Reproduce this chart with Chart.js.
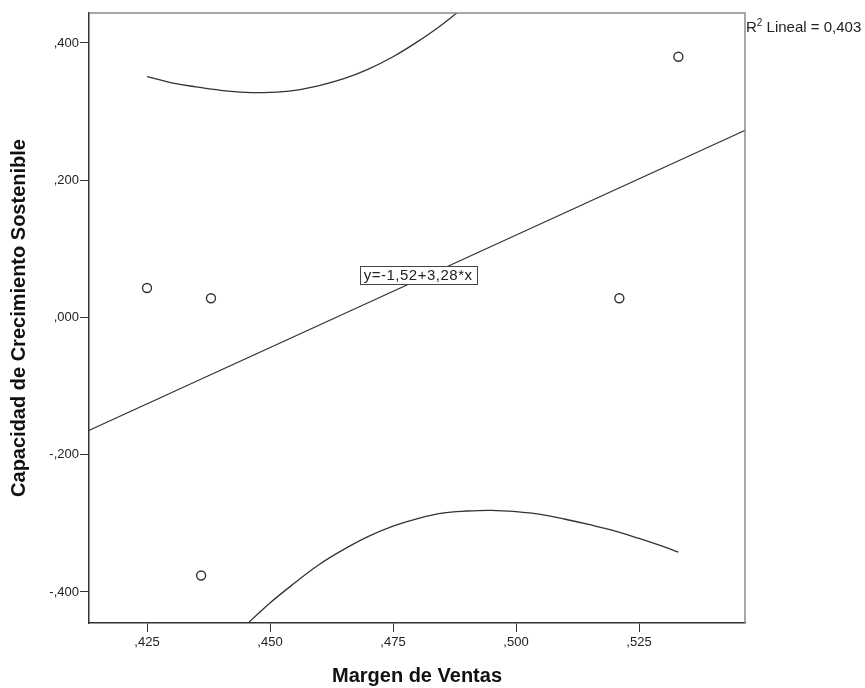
<!DOCTYPE html>
<html>
<head>
<meta charset="utf-8">
<script src="https://cdn.jsdelivr.net/npm/chart.js@4/dist/chart.umd.min.js"></script>
<style>
  html, body { margin: 0; padding: 0; background: #ffffff; }
  #wrap { width: 865px; height: 688px; position: relative; }
</style>
</head>
<body>
<div id="wrap"><canvas id="scatterChart"></canvas></div>
<script>
/* ================= DATA ================= */

// Margen de Ventas (x) / Capacidad de Crecimiento Sostenible (y)
const margenVentas = [0.425, 0.438, 0.436, 0.521, 0.533];
const capacidadCrec = [0.043, 0.028, -0.376, 0.028, 0.380];

// linear fit y=-1,52+3,28*x, ends read at the plot edges
const fitX = [0.410, 0.550];
const fitY = [-0.175, 0.284];

// upper 95% band
const upperX = [0.425, 0.430, 0.435, 0.440, 0.445, 0.450, 0.455, 0.460, 0.465, 0.470, 0.475, 0.480, 0.485, 0.490, 0.495];
const upperY = [0.351, 0.342, 0.336, 0.331, 0.328, 0.328, 0.331, 0.338, 0.348, 0.362, 0.380, 0.402, 0.427, 0.456, 0.488];

// lower 95% band
const lowerX = [0.440, 0.445, 0.450, 0.455, 0.460, 0.465, 0.470, 0.475, 0.480, 0.485, 0.490, 0.495, 0.500, 0.505, 0.510, 0.515, 0.520, 0.525, 0.530, 0.533];
const lowerY = [-0.484, -0.449, -0.416, -0.387, -0.360, -0.338, -0.319, -0.304, -0.293, -0.285, -0.282, -0.281, -0.283, -0.287, -0.294, -0.302, -0.311, -0.322, -0.334, -0.342];

const xTicks = [0.425, 0.450, 0.475, 0.500, 0.525];
const yTicks = [-0.4, -0.2, 0.0, 0.2, 0.4];

const xRange = [0.41321, 0.54654];
const yRange = [-0.4452, 0.4437];

const equationText = "y=-1,52+3,28*x";
const equationAt = [0.4801, 0.0615];
const r2Text = "Lineal = 0,403";

/* ================= HELPERS ================= */

const pairs = (xs, ys) => xs.map((x, i) => ({ x: x, y: ys[i] }));

// SPSS style: ,425  -,200  ,000
function spssFormat(v) {
    const s = Math.abs(v).toFixed(3).replace(/^0\./, ",");
    return (v < -1e-9 ? "-" : "") + s;
}

const FONT = "'Liberation Sans', Arial, sans-serif";
const INK = "#333333";

/* ================= ANNOTATIONS ================= */

const annotations = {
    id: "spssAnnotations",
    afterDraw(chart) {
        const ctx = chart.ctx;
        const area = chart.chartArea;
        const xs = chart.scales.x;
        const ys = chart.scales.y;

        ctx.save();

        // grey top and right frame
        ctx.strokeStyle = "#8a8a8a";
        ctx.lineWidth = 1.5;
        ctx.beginPath();
        ctx.moveTo(area.left, area.top);
        ctx.lineTo(area.right, area.top);
        ctx.lineTo(area.right, area.bottom);
        ctx.stroke();

        // equation box
        const cx = xs.getPixelForValue(equationAt[0]);
        const cy = ys.getPixelForValue(equationAt[1]);
        ctx.font = "15px " + FONT;
        ctx.letterSpacing = "0.5px";
        const w = ctx.measureText(equationText).width + 8;
        const h = 18;
        ctx.fillStyle = "#ffffff";
        ctx.fillRect(cx - w / 2, cy - h / 2, w, h);
        ctx.strokeStyle = "#444444";
        ctx.lineWidth = 1;
        ctx.strokeRect(Math.round(cx - w / 2) + 0.5, Math.round(cy - h / 2) + 0.5, Math.round(w), h);
        ctx.fillStyle = "#222222";
        ctx.textAlign = "center";
        ctx.textBaseline = "middle";
        ctx.fillText(equationText, cx, cy + 1);
        ctx.letterSpacing = "0px";

        // R2 label
        ctx.textAlign = "left";
        ctx.textBaseline = "alphabetic";
        const rx = area.right + 1;
        const ry = area.top + 19;
        ctx.font = "15px " + FONT;
        ctx.fillText("R", rx, ry);
        const rw = ctx.measureText("R").width;
        ctx.font = "10px " + FONT;
        ctx.fillText("2", rx + rw, ry - 6);
        const sw = ctx.measureText("2").width;
        ctx.font = "15px " + FONT;
        ctx.fillText(" " + r2Text, rx + rw + sw, ry);

        ctx.restore();
    }
};

/* ================= CHART ================= */

Chart.defaults.font.family = FONT;
Chart.defaults.color = "#222222";

new Chart(document.getElementById("scatterChart"), {

    type: "scatter",

    data: {
        datasets: [
            {
                label: "Observado",
                data: pairs(margenVentas, capacidadCrec),
                pointStyle: "circle",
                pointRadius: 4.5,
                pointBorderWidth: 1.4,
                pointBorderColor: INK,
                pointBackgroundColor: "#ffffff",
                showLine: false
            },
            {
                label: "Lineal",
                data: pairs(fitX, fitY),
                showLine: true,
                borderColor: INK,
                borderWidth: 1.3,
                pointRadius: 0
            },
            {
                label: "IC superior",
                data: pairs(upperX, upperY),
                showLine: true,
                tension: 0.4,
                borderColor: INK,
                borderWidth: 1.3,
                pointRadius: 0
            },
            {
                label: "IC inferior",
                data: pairs(lowerX, lowerY),
                showLine: true,
                tension: 0.4,
                borderColor: INK,
                borderWidth: 1.3,
                pointRadius: 0
            }
        ]
    },

    plugins: [annotations],

    options: {
        responsive: true,
        maintainAspectRatio: false,
        animation: false,

        layout: {
            padding: { left: 0, right: 120, top: 13, bottom: 0 }
        },

        plugins: {
            legend: { display: false },
            tooltip: { enabled: false }
        },

        scales: {
            x: {
                type: "linear",
                min: xRange[0],
                max: xRange[1],
                afterBuildTicks: (scale) => {
                    scale.ticks = xTicks.map(v => ({ value: v }));
                },
                afterFit: (scale) => { scale.height = 65; },
                grid: {
                    drawOnChartArea: false,
                    color: INK,
                    tickLength: 9
                },
                border: { color: INK, width: 1.5 },
                ticks: {
                    padding: 3,
                    maxRotation: 0,
                    font: { size: 13 },
                    callback: (value) => spssFormat(value)
                },
                title: {
                    display: true,
                    text: "Margen de Ventas",
                    color: "#111111",
                    font: { size: 20, weight: "bold" },
                    padding: { top: 0, bottom: 0 }
                }
            },
            y: {
                type: "linear",
                min: yRange[0],
                max: yRange[1],
                afterBuildTicks: (scale) => {
                    scale.ticks = yTicks.map(v => ({ value: v }));
                },
                afterFit: (scale) => { scale.width = 89; },
                grid: {
                    drawOnChartArea: false,
                    color: INK,
                    tickLength: 9
                },
                border: { color: INK, width: 1.5 },
                ticks: {
                    padding: 1,
                    font: { size: 13 },
                    callback: (value) => spssFormat(value)
                },
                title: {
                    display: true,
                    text: "Capacidad de Crecimiento Sostenible",
                    color: "#111111",
                    font: { size: 20, weight: "bold" },
                    padding: { top: 7, bottom: 0 }
                }
            }
        }
    }

});
</script>
</body>
</html>
